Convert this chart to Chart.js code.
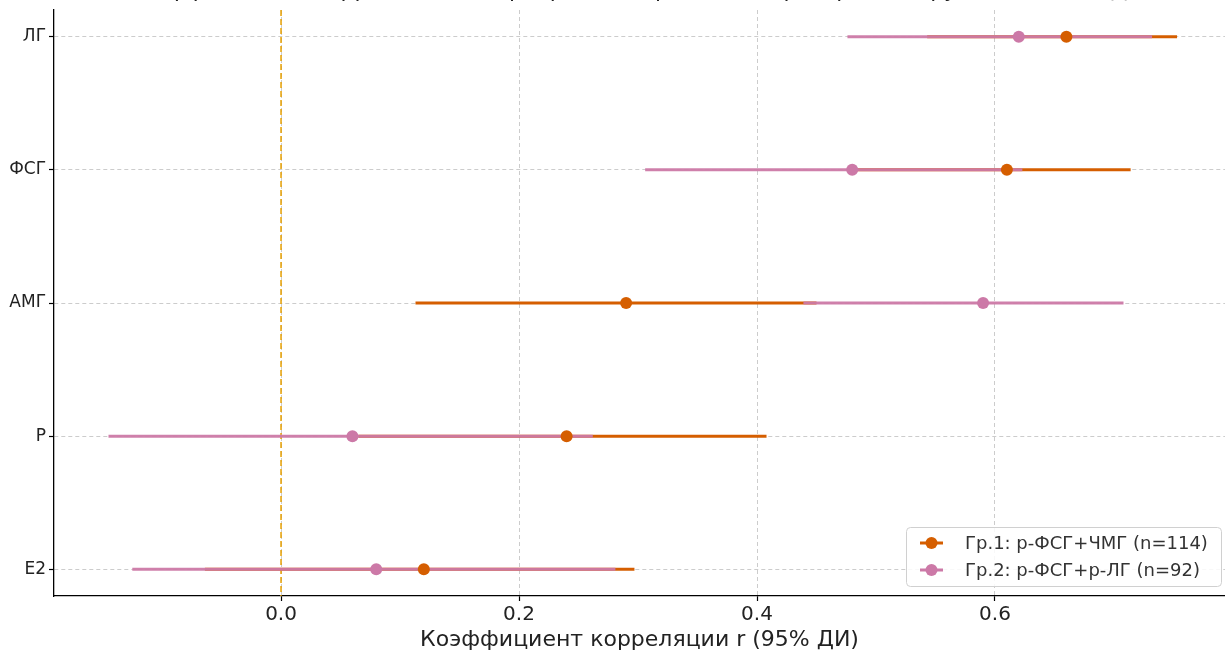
<!DOCTYPE html>
<html>
<head>
<meta charset="utf-8">
<script src="https://cdn.jsdelivr.net/npm/chart.js@4.4.0/dist/chart.umd.min.js"></script>
<style>
  html, body { margin: 0; padding: 0; background: #fff; }
  #wrap { width: 1225px; height: 656px; position: relative; overflow: hidden; }
</style>
</head>
<body>
<div id="wrap"><canvas id="forest" width="1231" height="656"></canvas></div>
<script>
// данные
const markers = ['ЛГ', 'ФСГ', 'АМГ', 'Р', 'Е2'];
const group1Label = 'Гр.1: р-ФСГ+ЧМГ (n=114)';
const group2Label = 'Гр.2: р-ФСГ+р-ЛГ (n=92)';
const group1R  = [0.66, 0.61, 0.29, 0.24, 0.12];
const group1Lo = [0.543, 0.484, 0.113, 0.065, -0.064];
const group1Hi = [0.753, 0.714, 0.45, 0.408, 0.297];
const group2R  = [0.62, 0.48, 0.59, 0.06, 0.08];
const group2Lo = [0.476, 0.306, 0.439, -0.145, -0.125];
const group2Hi = [0.732, 0.623, 0.708, 0.262, 0.281];
const xTicks = [0.0, 0.2, 0.4, 0.6];
const refValue = 0;

const titleText = 'Коэффициенты корреляции с маркерами овариального резерва по группам (r, 95% ДИ)';
const xTitle = 'Коэффициент корреляции r (95% ДИ)';

const C1 = '#D55E00';
const C2 = '#CC79A7';
const FONT = "'DejaVu Sans', sans-serif";

// отрезки доверительных интервалов
function ciDatasets(lo, hi, color, order) {
    return markers.map((m, i) => ({
        type: 'scatter',
        data: [{ x: lo[i], y: i }, { x: hi[i], y: i }],
        showLine: true,
        borderColor: color,
        borderWidth: 3,
        pointRadius: 0,
        order: order
    }));
}

function pointDataset(label, values, color, order) {
    return {
        type: 'scatter',
        label: label,
        data: values.map((v, i) => ({ x: v, y: i })),
        backgroundColor: color,
        borderColor: color,
        pointRadius: 6,
        pointBorderWidth: 0,
        showLine: false,
        order: order
    };
}

// вертикальная линия r = 0
const refLine = {
    id: 'refLine',
    beforeDatasetsDraw(chart) {
        const { ctx, chartArea, scales } = chart;
        const x = scales.x.getPixelForValue(refValue);
        ctx.save();
        ctx.strokeStyle = '#E69F00';
        ctx.lineWidth = 1.5;
        ctx.setLineDash([6, 3]);
        ctx.beginPath();
        ctx.moveTo(x, chartArea.top);
        ctx.lineTo(x, chartArea.bottom);
        ctx.stroke();
        ctx.restore();
    }
};

// заголовок (обрезан сверху, как на оригинале)
const cutTitle = {
    id: 'cutTitle',
    afterDraw(chart) {
        const { ctx, chartArea } = chart;
        ctx.save();
        ctx.font = '22px ' + FONT;
        ctx.fillStyle = '#222';
        ctx.textAlign = 'center';
        ctx.textBaseline = 'alphabetic';
        ctx.fillText(titleText, (chartArea.left + chartArea.right) / 2, -3);
        ctx.restore();
    }
};

// легенда внутри области графика, справа снизу
const boxLegend = {
    id: 'boxLegend',
    afterDraw(chart) {
        const { ctx, chartArea } = chart;
        const w = 315, h = 59;
        const x0 = chartArea.right - 4 - w;
        const y0 = chartArea.bottom - 10 - h;
        ctx.save();
        ctx.fillStyle = 'rgba(255,255,255,0.85)';
        ctx.strokeStyle = '#d0d0d0';
        ctx.lineWidth = 1;
        ctx.beginPath();
        ctx.roundRect(x0 + 0.5, y0 + 0.5, w, h, 4);
        ctx.fill();
        ctx.stroke();
        const items = [[group1Label, C1], [group2Label, C2]];
        items.forEach(([label, color], k) => {
            const y = y0 + 16 + k * 27;
            ctx.strokeStyle = color;
            ctx.lineWidth = 3;
            ctx.beginPath();
            ctx.moveTo(x0 + 14, y);
            ctx.lineTo(x0 + 37, y);
            ctx.stroke();
            ctx.fillStyle = color;
            ctx.beginPath();
            ctx.arc(x0 + 25.5, y, 6, 0, Math.PI * 2);
            ctx.fill();
            ctx.fillStyle = '#333';
            ctx.font = '18px ' + FONT;
            ctx.textAlign = 'left';
            ctx.textBaseline = 'middle';
            ctx.fillText(label, x0 + 59, y + 1);
        });
        ctx.restore();
    }
};

const gridStyle = {
    color: '#cccccc',
    lineWidth: 1,
    tickColor: '#000',
    tickLength: 5,
    tickWidth: 1.2,
    tickBorderDash: []
};

new Chart(document.getElementById('forest'), {
    type: 'scatter',
    data: {
        datasets: [
            ...ciDatasets(group1Lo, group1Hi, C1, 4),
            ...ciDatasets(group2Lo, group2Hi, 'rgba(204,121,167,0.95)', 3),
            pointDataset(group1Label, group1R, C1, 2),
            pointDataset(group2Label, group2R, C2, 1)
        ]
    },
    options: {
        responsive: false,
        animation: false,
        layout: { padding: { top: 10, left: 0, right: 0, bottom: 0 } },
        plugins: {
            legend: { display: false },
            tooltip: { enabled: false },
            title: { display: false }
        },
        scales: {
            x: {
                type: 'linear',
                min: -0.1908,
                max: 0.7933,
                afterBuildTicks: (s) => { s.ticks = xTicks.map(v => ({ value: v })); },
                afterFit: (s) => { s.height = 60; s.paddingLeft = 0; s.paddingRight = 0; },
                border: { display: true, color: '#000', width: 1.3, dash: [4, 3] },
                grid: gridStyle,
                ticks: {
                    padding: 2,
                    color: '#222',
                    font: { family: FONT, size: 20 },
                    callback: (v) => Number(v).toFixed(1)
                },
                title: {
                    display: true,
                    text: xTitle,
                    color: '#222',
                    font: { family: FONT, size: 22 },
                    padding: { top: 0, bottom: 3 }
                }
            },
            y: {
                type: 'linear',
                min: -0.2,
                max: 4.2,
                reverse: true,
                afterBuildTicks: (s) => { s.ticks = markers.map((m, i) => ({ value: i })); },
                afterFit: (s) => { s.width = 54; s.paddingTop = 0; s.paddingBottom = 0; },
                border: { display: true, color: '#000', width: 1.3, dash: [4, 3] },
                grid: gridStyle,
                ticks: {
                    padding: 3,
                    color: '#222',
                    font: { family: FONT, size: 17 },
                    callback: (v) => markers[v]
                }
            }
        }
    },
    plugins: [refLine, cutTitle, boxLegend]
});
</script>
</body>
</html>
